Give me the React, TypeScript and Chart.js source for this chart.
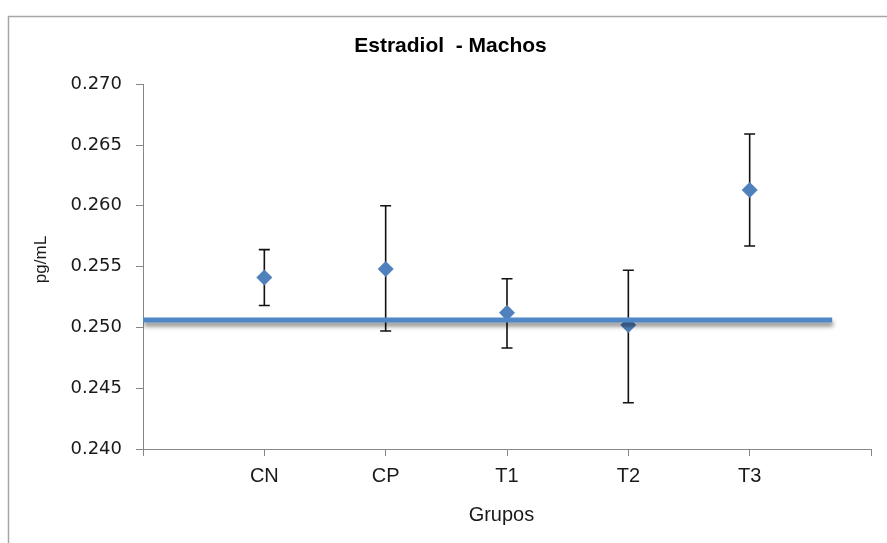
import { useEffect, useRef } from "react";
import { Chart, registerables } from "chart.js";

Chart.register(...registerables);

// ---- data ----
const categories = ["CN", "CP", "T1", "T2", "T3"];
const means = [0.2541, 0.2548, 0.2512, 0.2502, 0.2613];
const errUp = [0.0023, 0.0052, 0.0028, 0.0045, 0.0046];
const errDown = [0.0023, 0.0051, 0.0029, 0.0064, 0.0046];
const refLineX = [0, 5.68];
const refLineY = [0.2506, 0.2506];
const yMin = 0.24;
const yMax = 0.27;
const yStep = 0.005;
const xMin = 0;
const xMax = 6;
const titleText = "Estradiol  - Machos";
const xTitle = "Grupos  ";
const yTitle = "   pg/mL";

const MARKER = "#4F81BD";
const LINE = "#4F87C7";
const AXIS = "#868686";
const TEXT = "#1a1a1a";
const LEFT_PAD = 30;

const framePlugin = {
  id: "frame",
  beforeDraw(chart: any) {
    const ctx = chart.ctx;
    ctx.save();
    ctx.fillStyle = "#ffffff";
    ctx.fillRect(0, 0, chart.width, chart.height);
    ctx.strokeStyle = "#A6A6A6";
    ctx.lineWidth = 1.5;
    ctx.strokeRect(8.5, 16.5, 2000, 2000);
    ctx.restore();
  },
};

const shadowPlugin = {
  id: "lineShadow",
  beforeDatasetDraw(chart: any, args: any) {
    if (args.index === 0) {
      const ctx = chart.ctx;
      ctx.save();
      ctx.shadowColor = "rgba(0,0,0,0.45)";
      ctx.shadowBlur = 4;
      ctx.shadowOffsetX = 1;
      ctx.shadowOffsetY = 4;
    }
  },
  afterDatasetDraw(chart: any, args: any) {
    if (args.index === 0) {
      chart.ctx.restore();
    }
  },
};

const errorBarPlugin = {
  id: "errorBars",
  beforeDatasetsDraw(chart: any) {
    const ctx = chart.ctx;
    const xs = chart.scales.x;
    const ys = chart.scales.y;
    ctx.save();
    ctx.strokeStyle = "#111111";
    ctx.lineWidth = 1.6;
    const cap = 5.5;
    means.forEach((m, i) => {
      const x = xs.getPixelForValue(i + 1);
      const yT = ys.getPixelForValue(m + errUp[i]);
      const yB = ys.getPixelForValue(m - errDown[i]);
      ctx.beginPath();
      ctx.moveTo(x, yT);
      ctx.lineTo(x, yB);
      ctx.moveTo(x - cap, yT);
      ctx.lineTo(x + cap, yT);
      ctx.moveTo(x - cap, yB);
      ctx.lineTo(x + cap, yB);
      ctx.stroke();
    });
    ctx.restore();
  },
};

export default function App() {
  const ref = useRef<HTMLCanvasElement | null>(null);

  useEffect(() => {
    if (!ref.current) return;
    Chart.defaults.font.family = "'Liberation Sans', Arial, sans-serif";
    const chart = new Chart(ref.current, {
      type: "scatter",
      data: {
        datasets: [
          {
            label: "ref",
            data: refLineX.map((x, i) => ({ x, y: refLineY[i] })),
            showLine: true,
            borderColor: LINE,
            borderWidth: 5,
            borderCapStyle: "butt",
            pointRadius: 0,
            pointHoverRadius: 0,
          } as any,
          {
            label: "Estradiol",
            data: categories.map((_, i) => ({ x: i + 1, y: means[i] })),
            showLine: false,
            pointStyle: "rectRot",
            pointRadius: 8,
            pointHoverRadius: 8,
            backgroundColor: MARKER,
            borderColor: MARKER,
            borderWidth: 0,
          } as any,
        ],
      },
      options: {
        animation: false,
        responsive: false,
        layout: { padding: { left: LEFT_PAD, right: 16, top: 0, bottom: 0 } },
        plugins: {
          legend: { display: false },
          tooltip: { enabled: false },
          title: {
            display: true,
            text: titleText,
            color: "#000",
            font: { family: "'Liberation Sans', Arial, sans-serif", size: 21, weight: "bold" },
            padding: { top: 34, bottom: 25 },
          },
        },
        scales: {
          x: {
            type: "linear",
            min: xMin,
            max: xMax,
            grid: { drawOnChartArea: false, drawTicks: true, tickLength: 7, color: AXIS },
            border: { display: true, color: AXIS, width: 1 },
            ticks: {
              stepSize: 1,
              autoSkip: false,
              maxRotation: 0,
              padding: 8,
              color: TEXT,
              font: { family: "'Liberation Sans', Arial, sans-serif", size: 20 },
              callback: (v: any) => categories[Number(v) - 1] ?? "",
            },
            title: {
              display: true,
              text: xTitle,
              color: TEXT,
              font: { family: "'Liberation Sans', Arial, sans-serif", size: 20 },
              padding: { top: 0, bottom: 16 },
            },
            afterFit: (s: any) => {
              s.height = 94;
            },
          },
          y: {
            type: "linear",
            min: yMin,
            max: yMax,
            grid: { drawOnChartArea: false, drawTicks: true, tickLength: 7, color: AXIS },
            border: { display: true, color: AXIS, width: 1 },
            ticks: {
              stepSize: yStep,
              padding: 14,
              color: TEXT,
              font: { family: "'DejaVu Sans', Verdana, sans-serif", size: 18 },
              callback: (v: any) => Number(v).toFixed(3),
            },
            title: {
              display: true,
              text: yTitle,
              color: TEXT,
              font: { family: "'Liberation Sans', Arial, sans-serif", size: 17 },
              padding: { top: 1, bottom: 0 },
            },
            afterFit: (s: any) => {
              s.width = 143 - LEFT_PAD;
            },
          },
        },
      } as any,
      plugins: [framePlugin, errorBarPlugin, shadowPlugin],
    });
    return () => chart.destroy();
  }, []);

  return (
    <div style={{ position: "fixed", left: 0, top: 0, width: 887, height: 543, background: "#fff" }}>
      <canvas ref={ref} width={887} height={543} style={{ display: "block" }} />
    </div>
  );
}
